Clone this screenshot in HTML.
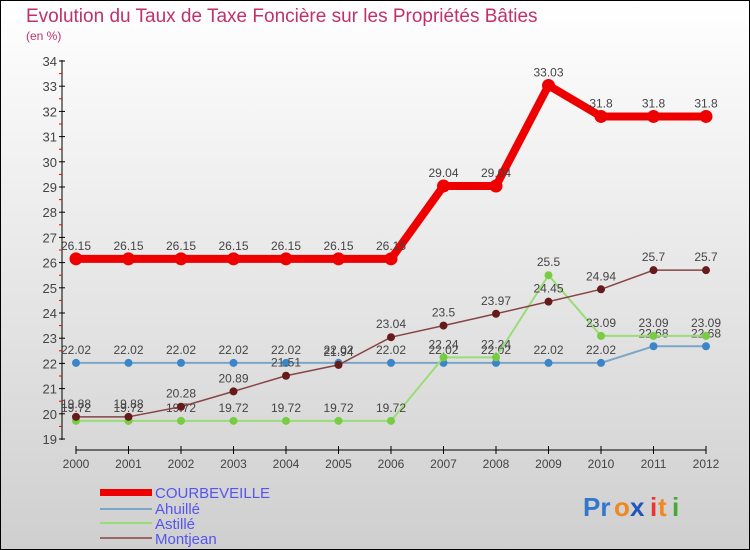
<!DOCTYPE html>
<html><head><meta charset="utf-8"><style>
body{margin:0}
#c{width:750px;height:550px;position:relative;background:linear-gradient(#ffffff,#cfcfcf);border:1px solid #000;box-sizing:border-box;overflow:hidden;font-family:"Liberation Sans",sans-serif}
</style></head><body>
<div id="c">
<svg id="s" width="750" height="550" style="position:absolute;left:-1px;top:-1px">
<text x="26" y="22" font-size="19" fill="#c0306a">Evolution du Taux de Taxe Foncière sur les Propriétés Bâties</text>
<text x="26" y="40" font-size="12" fill="#c0306a">(en %)</text>
<line x1="62" y1="60" x2="62" y2="440" stroke="#000"/>
<line x1="76" y1="450" x2="706" y2="450" stroke="#000"/>
<g id="ax"></g><g id="ser"></g>
<g font-size="15" fill="#5555ee">
<rect x="100" y="489" width="52" height="7" fill="#ee0000"/>
<text x="155" y="498">COURBEVEILLE</text>
<line x1="100" y1="509" x2="152" y2="509" stroke="#7aa6c8" stroke-width="2"/>
<text x="155" y="514">Ahuillé</text>
<line x1="100" y1="523" x2="152" y2="523" stroke="#99dd77" stroke-width="2"/>
<text x="155" y="529">Astillé</text>
<line x1="100" y1="538" x2="152" y2="538" stroke="#996666" stroke-width="2"/>
<text x="155" y="544">Montjean</text>
</g>
<g font-size="26" font-weight="bold">
<text x="583" y="516" fill="#3377cc">Pr</text><text x="614" y="516" fill="#ee8822">o</text><text x="630" y="516" fill="#2255bb">x</text><text x="650" y="516" fill="#ee3333">i</text><text x="658" y="516" fill="#ee8822">t</text><text x="672" y="516" fill="#44aa33">i</text>
</g>
</svg>
</div>
<script>
const years=[2000,2001,2002,2003,2004,2005,2006,2007,2008,2009,2010,2011,2012];
const yTicks=[19,20,21,22,23,24,25,26,27,28,29,30,31,32,33,34];
const courbeveille=[26.15,26.15,26.15,26.15,26.15,26.15,26.15,29.04,29.04,33.03,31.8,31.8,31.8];
const ahuille=[22.02,22.02,22.02,22.02,22.02,22.02,22.02,22.02,22.02,22.02,22.02,22.68,22.68];
const astille=[19.72,19.72,19.72,19.72,19.72,19.72,19.72,22.24,22.24,25.5,23.09,23.09,23.09];
const montjean=[19.88,19.88,20.28,20.89,21.51,21.94,23.04,23.5,23.97,24.45,24.94,25.7,25.7];
const NS="http://www.w3.org/2000/svg";
const X=i=>76+i*52.5;
const Y=v=>439-(v-19)*25.2;
function mk(t,a,p){const e=document.createElementNS(NS,t);for(const k in a)e.setAttribute(k,a[k]);p.appendChild(e);return e;}
const ax=document.getElementById('ax'),ser=document.getElementById('ser');
yTicks.forEach(v=>{
 const l=mk('line',{x1:59,x2:65,y1:Y(v),y2:Y(v),stroke:'#000'},ax);
 
 
 if(v<34){const m=mk('line',{x1:59,x2:62,y1:Y(v+0.5),y2:Y(v+0.5),stroke:'#e00'},ax);
 
 }
 const t=mk('text',{x:57,y:Y(v)+5,'text-anchor':'end','font-size':13,fill:'#444'},ax);t.textContent=v;
 
 
});
years.forEach((y,i)=>{
 const l=mk('line',{x1:X(i),x2:X(i),y1:446,y2:454,stroke:'#000'},ax);
 
 
 const t=mk('text',{x:X(i),y:468,'text-anchor':'middle','font-size':12,fill:'#444'},ax);t.textContent=y;
 
 
});
function series(name,vals,col,dot,w,r){
 const g=mk('g',{},ser);
 
 
 const p=mk('polyline',{points:vals.map((v,i)=>X(i)+','+Y(v)).join(' '),fill:'none',stroke:col,'stroke-width':w,'stroke-linejoin':'round'},g);
 
 
 vals.forEach((v,i)=>{
  const c=mk('circle',{cx:X(i),cy:Y(v),r:r,fill:dot},g);
  
  
  const t=mk('text',{x:X(i),y:Y(v)-9,'text-anchor':'middle','font-size':12,fill:'#444'},g);t.textContent=v;
  
  
 });
}
series('ahuille',ahuille,'#7aa6c8','#3a86c8',2,4);
series('astille',astille,'#99dd77','#77cc44',2,4);
series('montjean',montjean,'#884444','#661a1a',1.5,4);
series('courbeveille',courbeveille,'#ee0000','#ee0000',8,6.5);
</script>
</body></html>
